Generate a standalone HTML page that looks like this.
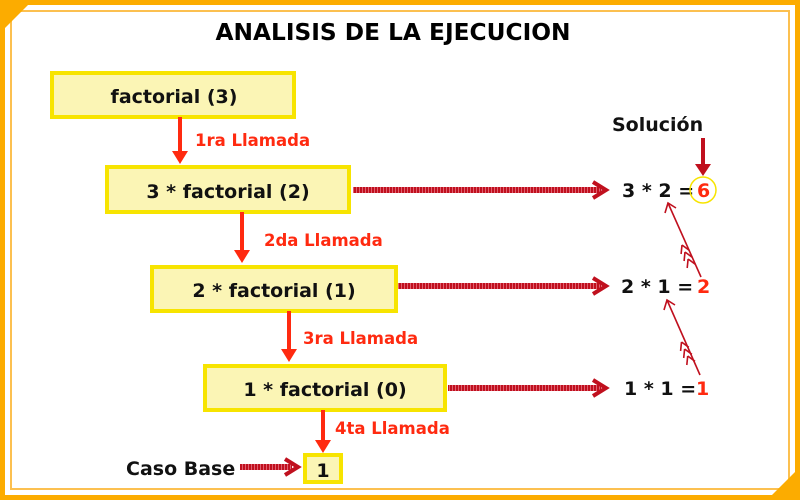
<!DOCTYPE html>
<html><head><meta charset="utf-8"><style>
html,body{margin:0;padding:0;background:#fff}
svg{display:block}
text{font-family:"DejaVu Sans","Liberation Sans",sans-serif;font-weight:bold}
</style></head><body>
<svg width="800" height="500" viewBox="0 0 800 500" xmlns="http://www.w3.org/2000/svg">
<defs>
<pattern id="st" width="3" height="10" patternUnits="userSpaceOnUse">
<rect width="2" height="10" fill="#c0101e"/><rect x="2" width="1" height="10" fill="#e06070"/>
</pattern>
</defs>
<rect x="2.5" y="2.5" width="795" height="495" fill="none" stroke="#fcac00" stroke-width="5"/>
<rect x="11" y="11" width="778" height="478" fill="none" stroke="#fcc050" stroke-width="2"/>
<polygon points="0,0 33,0 0,33" fill="#fcac00"/>
<polygon points="800,500 767,500 800,467" fill="#fcac00"/>
<text x="393" y="40" text-anchor="middle" font-size="23" fill="#000" textLength="355" lengthAdjust="spacingAndGlyphs">ANALISIS DE LA EJECUCION</text>
<g fill="#fbf5b5" stroke="#f7e400" stroke-width="4">
<rect x="52" y="73" width="242" height="44"/>
<rect x="107" y="167" width="242" height="45"/>
<rect x="152" y="267" width="244" height="44"/>
<rect x="205" y="366" width="240" height="44"/>
<rect x="305" y="455" width="36" height="27"/>
</g>
<g font-size="19" fill="#111" text-anchor="middle">
<text x="174" y="103">factorial (3)</text>
<text x="228" y="198">3 * factorial (2)</text>
<text x="274" y="297">2 * factorial (1)</text>
<text x="325" y="396">1 * factorial (0)</text>
<text x="323" y="477">1</text>
</g>
<g fill="#ff2a10">
<rect x="178" y="117" width="4" height="34"/><polygon points="172,151 188,151 180,164"/>
<rect x="240" y="212" width="4" height="38"/><polygon points="234,250 250,250 242,263"/>
<rect x="287" y="311" width="4" height="38"/><polygon points="281,349 297,349 289,362"/>
<rect x="321" y="410" width="4" height="30"/><polygon points="315,440 331,440 323,453"/>
</g>
<g font-size="16.5" fill="#ff2a10">
<text x="195" y="146">1ra Llamada</text>
<text x="264" y="246">2da Llamada</text>
<text x="303" y="344">3ra Llamada</text>
<text x="335" y="434">4ta Llamada</text>
</g>
<rect x="353" y="187" width="248" height="6" fill="url(#st)"/>
<polyline points="593,182 606,190 593,198" fill="none" stroke="#c0101e" stroke-width="4"/>
<rect x="398" y="283" width="203" height="6" fill="url(#st)"/>
<polyline points="593,278 606,286 593,294" fill="none" stroke="#c0101e" stroke-width="4"/>
<rect x="448" y="385" width="153" height="6" fill="url(#st)"/>
<polyline points="593,380 606,388 593,396" fill="none" stroke="#c0101e" stroke-width="4"/>
<rect x="240" y="464" width="52" height="6" fill="url(#st)"/>
<polyline points="285,459 298,467 285,475" fill="none" stroke="#c0101e" stroke-width="4"/>
<g font-size="19" fill="#111">
<text x="126" y="475">Caso Base</text>
<text x="612" y="131">Solución</text>
<text x="622" y="197">3 * 2 =</text>
<text x="621" y="293">2 * 1  =</text>
<text x="624" y="395">1 * 1 =</text>
</g>
<g font-size="19" fill="#ff2a10">
<text x="697" y="197">6</text>
<text x="697" y="293">2</text>
<text x="696" y="395">1</text>
</g>
<circle cx="703" cy="190" r="13" fill="none" stroke="#f7e400" stroke-width="1.5"/>
<rect x="701" y="138" width="4" height="28" fill="#c0101e"/>
<polygon points="695,164 711,164 703,176" fill="#c0101e"/>
<g stroke="#c0101e" stroke-width="1.6" fill="none">
<line x1="701" y1="277" x2="668" y2="203"/>
<polyline points="665,213 668,203 676,208"/>
<line x1="700" y1="375" x2="667" y2="300"/>
<polyline points="664,310 667,300 675,305"/>
<path d="M688.1,259l7.3,5.3M688.1,259l-0.9,9M685,252l7.3,5.3M685,252l-0.9,9M682,245l7.3,5.3M682,245l-0.9,9"/>
<path d="M687.7,356l7.3,5.3M687.7,356l-0.9,9M684.6,349l7.3,5.3M684.6,349l-0.9,9M681.5,342l7.3,5.3M681.5,342l-0.9,9"/>
</g>
</svg>
</body></html>
